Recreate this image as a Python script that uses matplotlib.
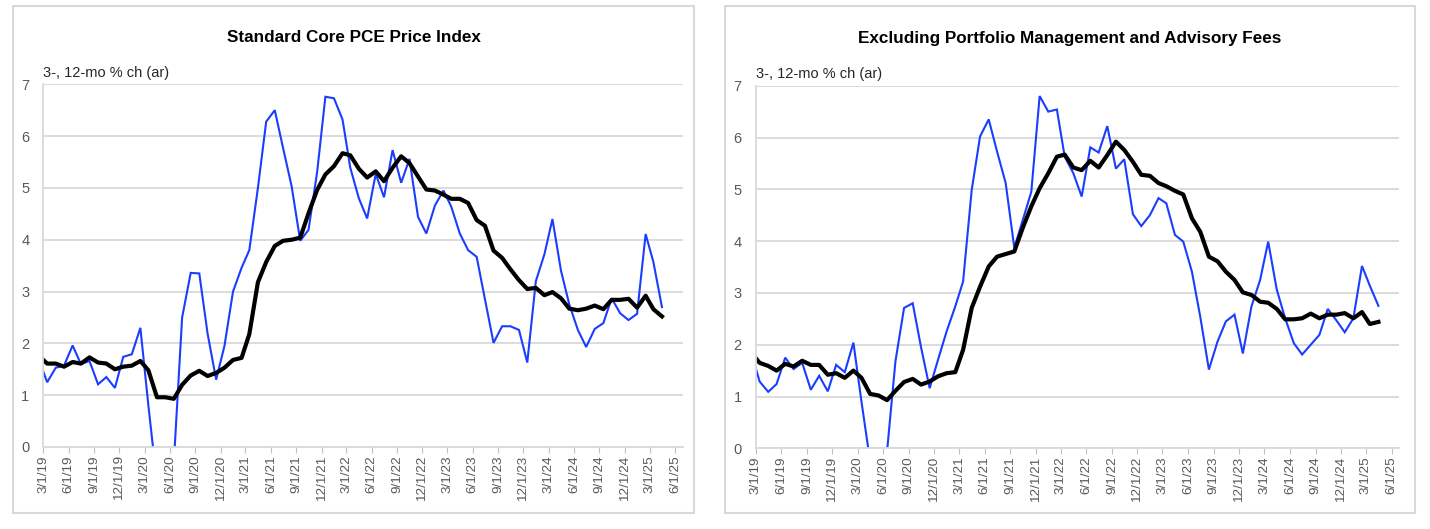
import pandas as pd
import matplotlib.pyplot as plt
from matplotlib.patches import Rectangle

plt.rcParams["font.family"] = ["Liberation Sans", "DejaVu Sans"]

# monthly points, plotted mid-month (Feb 2019 .. Apr 2025)
months = pd.date_range("2019-02-01", "2025-04-01", freq="MS") + pd.Timedelta(days=14)

core_3mo = [1.66, 1.25, 1.53, 1.57, 1.96, 1.60, 1.66, 1.21, 1.35, 1.14, 1.74, 1.79, 2.30,
            0.80, -0.70, -1.50, -0.30,
            2.50, 3.36, 3.35, 2.19, 1.30, 1.95, 3.00, 3.46, 3.80, 5.00,
            6.28, 6.50, 5.77, 5.03, 3.98, 4.19, 5.30, 6.76, 6.73, 6.32,
            5.39, 4.80, 4.41, 5.27, 4.82, 5.73, 5.10, 5.56, 4.44, 4.12,
            4.66, 4.95, 4.64, 4.12, 3.80, 3.67, 2.85, 2.01, 2.33, 2.33,
            2.26, 1.63, 3.20, 3.72, 4.40, 3.40, 2.75, 2.26, 1.93, 2.28,
            2.39, 2.87, 2.58, 2.45, 2.57, 4.11, 3.57, 2.70]
core_12mo = [1.75, 1.61, 1.61, 1.55, 1.64, 1.61, 1.73, 1.63, 1.61, 1.50, 1.55, 1.57, 1.66,
             1.48, 0.96, 0.96, 0.93,
             1.20, 1.38, 1.47, 1.37, 1.43, 1.53, 1.68, 1.72, 2.18, 3.18,
             3.57, 3.88, 3.98, 4.00, 4.04, 4.51, 4.96, 5.26, 5.42, 5.67,
             5.63, 5.37, 5.20, 5.32, 5.13, 5.39, 5.61, 5.48, 5.22, 4.97,
             4.95, 4.87, 4.79, 4.79, 4.71, 4.38, 4.27, 3.79, 3.65, 3.43,
             3.22, 3.05, 3.07, 2.93, 2.99, 2.87, 2.67, 2.64, 2.67, 2.73,
             2.66, 2.84, 2.84, 2.86, 2.69, 2.92, 2.66, 2.52]
exfees_3mo = [1.81, 1.29, 1.09, 1.24, 1.75, 1.53, 1.65, 1.13, 1.40, 1.10, 1.61, 1.47, 2.04,
              0.90, -0.25, -1.00, -0.05,
              1.68, 2.71, 2.80, 1.95, 1.16, 1.71, 2.26, 2.74, 3.22, 4.99,
              6.02, 6.35, 5.73, 5.12, 3.87, 4.40, 4.95, 6.80, 6.50, 6.54,
              5.63, 5.31, 4.86, 5.81, 5.71, 6.22, 5.40, 5.58, 4.52, 4.29,
              4.50, 4.83, 4.73, 4.12, 3.99, 3.41, 2.54, 1.52, 2.06, 2.45,
              2.58, 1.83, 2.74, 3.25, 3.99, 3.06, 2.51, 2.03, 1.81, 2.00,
              2.19, 2.69, 2.47, 2.24, 2.51, 3.52, 3.14, 2.75]
exfees_12mo = [1.83, 1.65, 1.59, 1.50, 1.63, 1.58, 1.69, 1.61, 1.61, 1.42, 1.45, 1.36, 1.50,
               1.36, 1.05, 1.02, 0.93,
               1.11, 1.28, 1.34, 1.23, 1.29, 1.39, 1.45, 1.47, 1.90, 2.71,
               3.12, 3.51, 3.70, 3.75, 3.80, 4.25, 4.67, 5.02, 5.31, 5.63,
               5.67, 5.42, 5.37, 5.55, 5.42, 5.66, 5.92, 5.76, 5.53, 5.28,
               5.26, 5.12, 5.06, 4.97, 4.90, 4.44, 4.18, 3.70, 3.61, 3.41,
               3.25, 3.01, 2.96, 2.83, 2.81, 2.69, 2.49, 2.49, 2.51, 2.60,
               2.51, 2.58, 2.58, 2.61, 2.51, 2.63, 2.40, 2.44]

titles = ["Standard Core PCE Price Index",
          "Excluding Portfolio Management and Advisory Fees"]
unit_label = "3-, 12-mo % ch (ar)"
tick_dates = pd.date_range("2019-03-01", "2025-06-01", freq="3MS")
tick_labels = [f"{d.month}/{d.day}/{d.year % 100:02d}" for d in tick_dates]

W, H = 1430, 529
fig = plt.figure(figsize=(W / 100, H / 100), dpi=100)

# panel frames (pixels): x0, y0(top), x1, y1(bottom)
frames = [(13, 6, 694, 513), (725, 6, 1415, 513)]
# axes boxes (pixels): left, top, right, bottom
boxes = [(43.3, 84.3, 682.7, 447.0), (755.7, 85.7, 1399.3, 448.3)]
series = [(core_3mo, core_12mo), (exfees_3mo, exfees_12mo)]

for i in range(2):
    fx0, fy0, fx1, fy1 = frames[i]
    fig.patches.append(Rectangle((fx0 / W, 1 - fy1 / H), (fx1 - fx0) / W, (fy1 - fy0) / H,
                                 transform=fig.transFigure, fill=False,
                                 edgecolor="#d9d9d9", lw=1.5))
    l, t, r, b = boxes[i]
    ax = fig.add_axes([l / W, 1 - b / H, (r - l) / W, (b - t) / H])
    s3, s12 = series[i]
    ax.plot(months, s3, color="#1a3dff", lw=1.5, solid_joinstyle="miter")
    ax.plot(months, s12, color="black", lw=3.0, solid_joinstyle="round")
    ax.set_ylim(0, 7)
    ax.set_xlim(pd.Timestamp("2019-03-01"), pd.Timestamp("2025-06-29"))
    ax.set_yticks(range(8))
    ax.set_xticks(tick_dates)
    ax.set_xticklabels(tick_labels, rotation=90)
    ax.grid(axis="y", color="#d9d9d9", lw=1.3)
    ax.set_axisbelow(True)
    for side in ["top", "right"]:
        ax.spines[side].set_visible(False)
    for side in ["left", "bottom"]:
        ax.spines[side].set_color("#d9d9d9")
        ax.spines[side].set_linewidth(1.3)
    ax.tick_params(axis="x", length=4, color="#bfbfbf", labelcolor="#595959",
                   labelsize=9.7, pad=2)
    ax.tick_params(axis="y", length=0, labelcolor="#595959", labelsize=10.5, pad=10)
    ax.text(0, 1.012, unit_label, transform=ax.transAxes, fontsize=10.5,
            color="#262626", ha="left", va="bottom")
    fig.text(((fx0 + fx1) / 2) / W, 1 - 38 / H, titles[i], ha="center", va="center",
             fontsize=12.3, fontweight="bold", color="black")

fig.savefig("out.png", dpi=100)
